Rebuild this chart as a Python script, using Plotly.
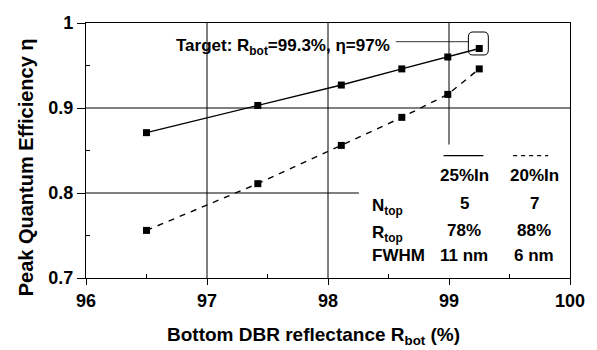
import plotly.graph_objects as go

# ---- data ----
r_bot = [96.5, 97.42, 98.11, 98.61, 98.99, 99.25]
eta_25in = [0.871, 0.903, 0.927, 0.946, 0.960, 0.970]
eta_20in = [0.756, 0.811, 0.856, 0.889, 0.916, 0.946]

x_ticks = [96, 97, 98, 99, 100]
x_ticktext = ["96", "97", "98", "99", "100"]
y_ticks = [0.7, 0.8, 0.9, 1.0]
y_ticktext = ["0.7", "0.8", "0.9", "1"]

table_cols = ["25%In", "20%In"]
table_rows = ["N<sub>top</sub>", "R<sub>top</sub>", "FWHM"]
table_vals = [["5", "7"], ["78%", "88%"], ["11 nm", "6 nm"]]

FONT = "Liberation Sans, Arial, sans-serif"

fig = go.Figure()
fig.add_trace(go.Scatter(x=r_bot, y=eta_25in, mode="lines+markers",
                         line=dict(color="black", width=1.4),
                         marker=dict(symbol="square", size=7, color="black"),
                         showlegend=False))
fig.add_trace(go.Scatter(x=r_bot, y=eta_20in, mode="lines+markers",
                         line=dict(color="black", width=1.4, dash="6px,6px"),
                         marker=dict(symbol="square", size=7, color="black"),
                         showlegend=False))

shapes = []
def line(x0, y0, x1, y1, w=1.0, dash=None, layer="below"):
    d = dict(type="line", xref="x", yref="y", x0=x0, y0=y0, x1=x1, y1=y1,
             line=dict(color="black", width=w), layer=layer)
    if dash:
        d["line"]["dash"] = dash
    shapes.append(d)

# grid (partially interrupted by the inset table)
line(97, 0.7, 97, 1.0)
line(98, 0.7, 98, 1.0)
line(99, 0.857, 99, 1.0)
line(96, 0.9, 100, 0.9)
line(96, 0.8, 98.255, 0.8)

# target pointer line
line(98.56, 0.978, 99.16, 0.978, w=0.8, layer="above")

# rounded box around target point
x0, x1, y0, y1 = 99.16, 99.325, 0.9624, 0.9894
rx, ry = 0.035, 0.006
path = (f"M {x0+rx},{y0} L {x1-rx},{y0} Q {x1},{y0} {x1},{y0+ry} "
        f"L {x1},{y1-ry} Q {x1},{y1} {x1-rx},{y1} "
        f"L {x0+rx},{y1} Q {x0},{y1} {x0},{y1-ry} "
        f"L {x0},{y0+ry} Q {x0},{y0} {x0+rx},{y0} Z")
shapes.append(dict(type="path", xref="x", yref="y", path=path,
                   line=dict(color="black", width=1), layer="above"))

# legend samples
line(98.955, 0.844, 99.284, 0.844, w=1.2, layer="above")
line(99.53, 0.844, 99.82, 0.844, w=1.2, dash="4px,4px", layer="above")

annotations = []
def text(x, y, s, size=17, xanchor="center", xref="x", yref="y", angle=0):
    annotations.append(dict(x=x, y=y, xref=xref, yref=yref, text=s,
                            showarrow=False, xanchor=xanchor, yanchor="middle",
                            textangle=angle,
                            font=dict(family=FONT, size=size, color="black",
                                      weight="bold")))

text(98.53, 0.972, "Target: R<sub>bot</sub>=99.3%, η=97%", size=17, xanchor="right")

col_x = [99.128, 99.704]
text(col_x[0], 0.8204, table_cols[0])
text(col_x[1], 0.8204, table_cols[1])
row_y = [0.788, 0.756, 0.726]
for ry_, lab, vals in zip(row_y, table_rows, table_vals):
    text(98.346, ry_ - (0.004 if "sub" in lab else 0), lab, xanchor="left")
    text(col_x[0], ry_, vals[0])
    text(col_x[1], ry_, vals[1])

# axis titles
text(0.471, -0.228, "Bottom DBR reflectance R<sub>bot</sub> (%)", size=19,
     xref="paper", yref="paper")
text(-0.1235, 0.435, "Peak Quantum Efficiency η", size=20,
     xref="paper", yref="paper", angle=-90)

fig.update_layout(
    width=597, height=350,
    margin=dict(l=86, r=25, t=23, b=72),
    paper_bgcolor="white", plot_bgcolor="white",
    shapes=shapes, annotations=annotations,
    font=dict(family=FONT, size=18, color="black", weight="bold"),
)
fig.update_xaxes(range=[96, 100], tickvals=x_ticks, ticktext=x_ticktext,
                 showgrid=False, zeroline=False,
                 showline=True, linecolor="black", linewidth=1.3, mirror=True,
                 ticks="outside", ticklen=6, tickcolor="black",
                 minor=dict(ticks="inside", ticklen=4, tick0=96.5, dtick=1,
                            tickcolor="black", showgrid=False),
                 tickfont=dict(family=FONT, size=18, weight="bold"))
fig.update_yaxes(range=[0.7, 1.0], tickvals=y_ticks, ticktext=y_ticktext,
                 showgrid=False, zeroline=False,
                 showline=True, linecolor="black", linewidth=1.3, mirror=True,
                 ticks="outside", ticklen=8, tickcolor="black",
                 minor=dict(ticks="inside", ticklen=4, tick0=0.75, dtick=0.1,
                            tickcolor="black", showgrid=False),
                 tickfont=dict(family=FONT, size=18, weight="bold"))

fig.write_html("out.html")
